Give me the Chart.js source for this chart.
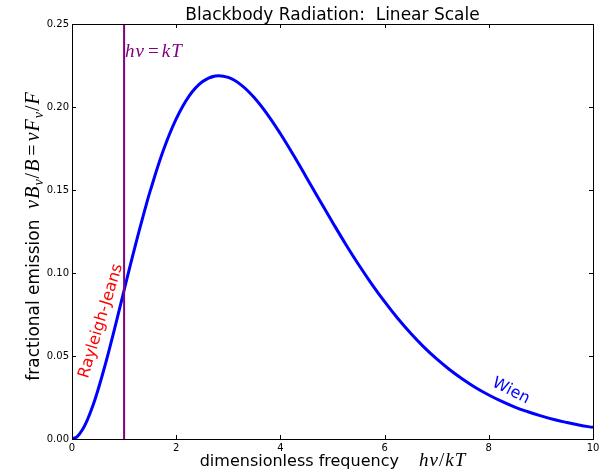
<!DOCTYPE html>
<html>
<head>
<meta charset="utf-8">
<script src="https://cdn.jsdelivr.net/npm/chart.js@4.4.1/dist/chart.umd.min.js"></script>
<style>
  html, body { margin: 0; padding: 0; background: #fff; }
  #wrap { width: 607px; height: 475px; position: relative; }
</style>
</head>
<body>
<div id="wrap"><canvas id="bbChart" width="607" height="475"></canvas></div>
<script>
// values (finer steps near the origin)
const freq = [0, 0.1, 0.2, 0.3, 0.4, 0.5, 0.6, 0.7, 0.8, 0.9, 1, 1.1, 1.2, 1.3, 1.4, 1.5,
  1.75, 2, 2.25, 2.5, 2.75, 3, 3.25, 3.5, 3.75, 4,
  4.25, 4.5, 4.75, 5, 5.25, 5.5, 5.75, 6, 6.25, 6.5, 6.75, 7, 7.25, 7.5, 7.75, 8,
  8.25, 8.5, 8.75, 9, 9.25, 9.5, 9.75, 10];
const emission = [0, 0.0015, 0.0056, 0.0119, 0.0200, 0.0297, 0.0405, 0.0521, 0.0643, 0.0769,
  0.0896, 0.1023, 0.1147, 0.1267, 0.1383, 0.1493,
  0.1736, 0.1928, 0.2067, 0.2152, 0.2187, 0.2178, 0.2132, 0.2056, 0.1956, 0.1839,
  0.1711, 0.1576, 0.1440, 0.1306, 0.1175, 0.1051, 0.0935, 0.0827, 0.0727, 0.0637,
  0.0555, 0.0482, 0.0417, 0.0360, 0.0309, 0.0265, 0.0226, 0.0192, 0.0164, 0.0139,
  0.0117, 0.0099, 0.0083, 0.0070];

// vertical marker at h nu = kT
const markerFreq = [1, 1];
const markerLevel = [0, 0.25];

const xTicks = [0, 2, 4, 6, 8, 10];
const yTicks = [0, 0.05, 0.10, 0.15, 0.20, 0.25];

const sans = '"DejaVu Sans", sans-serif';
const serif = '"Liberation Serif", serif';

// draws a row of text pieces in different fonts, centered on x
function drawRuns(ctx, runs, x, y, align) {
    let total = 0;
    runs.forEach(r => {
        ctx.font = r.f;
        r.w = ctx.measureText(r.t).width + (r.gap || 0);
        total += r.w;
    });
    let cx = align === 'left' ? x : x - total / 2;
    runs.forEach(r => {
        ctx.font = r.f;
        ctx.fillText(r.t, cx + (r.pre || 0), y + (r.dy || 0));
        cx += r.w;
    });
}

const frame = {
    id: 'frame',
    afterDraw(chart) {
        const ctx = chart.ctx;
        const a = chart.chartArea;
        const xs = chart.scales.x, ys = chart.scales.y;
        ctx.save();
        ctx.strokeStyle = '#000';
        ctx.lineWidth = 1;
        ctx.strokeRect(a.left + 0.5, a.top + 0.5, a.right - a.left, a.bottom - a.top);

        // inward ticks on all four sides
        ctx.beginPath();
        xTicks.forEach(v => {
            const px = Math.round(xs.getPixelForValue(v)) + 0.5;
            ctx.moveTo(px, a.bottom); ctx.lineTo(px, a.bottom - 4);
            ctx.moveTo(px, a.top); ctx.lineTo(px, a.top + 4);
        });
        yTicks.forEach(v => {
            const py = Math.round(ys.getPixelForValue(v)) + 0.5;
            ctx.moveTo(a.left, py); ctx.lineTo(a.left + 4, py);
            ctx.moveTo(a.right, py); ctx.lineTo(a.right - 4, py);
        });
        ctx.stroke();

        const midX = (a.left + a.right) / 2;
        const midY = (a.top + a.bottom) / 2;
        ctx.fillStyle = '#000';
        ctx.textBaseline = 'alphabetic';
        ctx.textAlign = 'left';

        // title
        drawRuns(ctx, [{ t: 'Blackbody Radiation:  Linear Scale', f: '17px ' + sans }], midX, 20);

        // x axis label
        const mi = 'italic 19px ' + serif;
        const mr = '19px ' + serif;
        drawRuns(ctx, [
            { t: 'dimensionless frequency  ', f: '16px ' + sans, gap: 10 },
            { t: 'h', f: mi, gap: 1 },
            { t: '\u03bd', f: mi, gap: 1 },
            { t: '/', f: mr, gap: 1 },
            { t: 'k', f: mi, gap: 1 },
            { t: 'T', f: mi }
        ], midX, 466);

        // y axis label
        ctx.save();
        ctx.translate(39, midY + 5);
        ctx.rotate(-Math.PI / 2);
        const yi = 'italic 20px ' + serif;
        const yr = '20px ' + serif;
        const sub = 'italic 14px ' + serif;
        drawRuns(ctx, [
            { t: 'fractional emission  ', f: '17px ' + sans },
            { t: '\u03bd', f: yi, gap: 1 },
            { t: 'B', f: yi, gap: 1 },
            { t: '\u03bd', f: sub, dy: 4, gap: 1 },
            { t: '/', f: yr, gap: 1 },
            { t: 'B', f: yi, gap: 1 },
            { t: '=', f: yr, pre: 3, gap: 6 },
            { t: '\u03bd', f: yi, gap: 1 },
            { t: 'F', f: yi, gap: 1 },
            { t: '\u03bd', f: sub, dy: 4, gap: 1 },
            { t: '/', f: yr, gap: 1 },
            { t: 'F', f: yi }
        ], 0, 0);
        ctx.restore();

        // h nu = kT label
        ctx.fillStyle = '#800080';
        drawRuns(ctx, [
            { t: 'h', f: mi, gap: 1 },
            { t: '\u03bd', f: mi, gap: 1 },
            { t: '=', f: mr, pre: 3, gap: 6 },
            { t: 'k', f: mi, gap: 1 },
            { t: 'T', f: mi }
        ], xs.getPixelForValue(1) + 1, 57, 'left');

        // Rayleigh-Jeans
        ctx.save();
        ctx.fillStyle = '#ff0000';
        ctx.translate(101, 321);
        ctx.rotate(-73 * Math.PI / 180);
        ctx.textAlign = 'center';
        ctx.textBaseline = 'middle';
        ctx.font = '16px ' + sans;
        ctx.fillText('Rayleigh-Jeans', 0, 0);
        ctx.restore();

        // Wien
        ctx.save();
        ctx.fillStyle = '#0000ff';
        ctx.translate(511, 391);
        ctx.rotate(27 * Math.PI / 180);
        ctx.textAlign = 'center';
        ctx.textBaseline = 'middle';
        ctx.font = '16px ' + sans;
        ctx.fillText('Wien', 0, 0);
        ctx.restore();

        ctx.restore();
    }
};

const ctx = document.getElementById('bbChart').getContext('2d');
new Chart(ctx, {
    type: 'line',
    data: {
        datasets: [{
            data: freq.map((f, i) => ({ x: f, y: emission[i] })),
            borderColor: '#0000ff',
            borderWidth: 3,
            pointRadius: 0,
            tension: 0.4,
            fill: false,
            order: 2
        }, {
            data: markerFreq.map((f, i) => ({ x: f, y: markerLevel[i] })),
            borderColor: '#800080',
            borderWidth: 2,
            pointRadius: 0,
            fill: false,
            order: 1
        }]
    },
    options: {
        responsive: false,
        animation: false,
        layout: { padding: { top: 24, right: 14, left: 0, bottom: 0 } },
        plugins: { legend: { display: false }, tooltip: { enabled: false }, title: { display: false } },
        scales: {
            x: {
                type: 'linear',
                min: 0, max: 10,
                afterBuildTicks: s => { s.ticks = xTicks.map(v => ({ value: v })); },
                afterFit: s => { s.height = 36; },
                grid: { display: false, drawTicks: false },
                border: { display: false },
                ticks: { color: '#000', padding: 3, maxRotation: 0, font: { family: 'DejaVu Sans', size: 10 } }
            },
            y: {
                type: 'linear',
                min: 0, max: 0.25,
                afterBuildTicks: s => { s.ticks = yTicks.map(v => ({ value: v })); },
                afterFit: s => { s.width = 72; },
                grid: { display: false, drawTicks: false },
                border: { display: false },
                ticks: {
                    color: '#000', padding: 3,
                    font: { family: 'DejaVu Sans', size: 10 },
                    callback: v => v.toFixed(2)
                }
            }
        }
    },
    plugins: [frame]
});
</script>
</body>
</html>
